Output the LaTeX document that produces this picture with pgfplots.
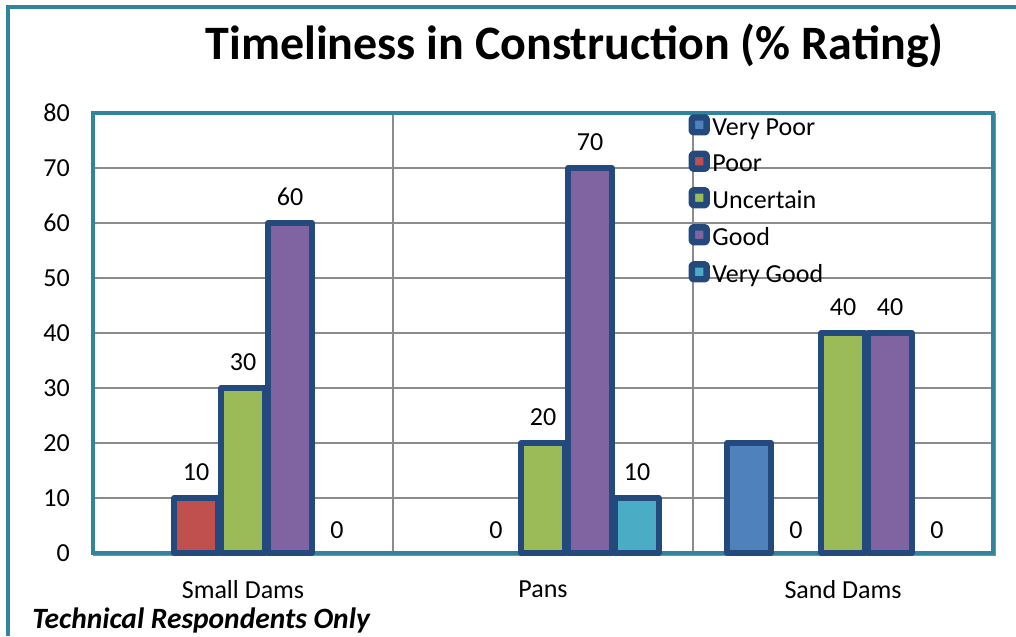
\documentclass[border=0pt]{standalone}
\usepackage{fontspec}
\setmainfont{Carlito}
\usepackage{pgfplots}
\pgfplotsset{compat=1.18}

\definecolor{vpoor}{HTML}{4F81BD}
\definecolor{poor}{HTML}{C0504D}
\definecolor{uncert}{HTML}{9BBB59}
\definecolor{good}{HTML}{8064A2}
\definecolor{vgood}{HTML}{4BACC6}
\definecolor{barline}{HTML}{24497C}
\definecolor{frame}{HTML}{31849B}
\definecolor{gridc}{HTML}{8C8C8C}

% square legend keys with a thick outline
\pgfplotsset{
  ybar legend/.style={
    /pgfplots/legend image code/.code={
      \draw[##1, draw=barline, line width=4.8pt, rounded corners=1pt] (-3.5pt,-3.2pt) rectangle (7.6pt,7.9pt);
    }
  },
  series/.style={fill=#1, draw=barline, line width=4.1pt, line join=round},
  labelled/.style={nodes near coords},
  zerolabels/.style={draw=none, fill=none, forget plot, nodes near coords},
}

\begin{document}
\begin{tikzpicture}
\useasboundingbox (0,0) rectangle (762pt,477pt);
% outer chart frame
\draw[frame, line width=3pt] (762pt,472pt) -- (6pt,472pt) -- (6pt,0pt);
% thin grey edge along the right and bottom of the plot area
\draw[gridc, line width=0.9pt] (70pt,60.6pt) -- (746.5pt,60.6pt) -- (746.5pt,392pt);

\begin{axis}[
  at={(69.75pt,62.25pt)}, anchor=south west,
  scale only axis, width=675pt, height=330pt,
  xmin=-0.5, xmax=2.5, ymin=0, ymax=80,
  ytick={0,10,...,80},
  xtick={0,1,2}, xticklabels={Small Dams,Pans,Sand Dams},
  minor xtick={0.5,1.5},
  xminorgrids, ymajorgrids,
  major tick length=0pt, minor tick length=0pt,
  grid style={gridc, line width=1.2pt},
  minor grid style={gridc, line width=1.2pt},
  axis line style={frame, line width=2.5pt},
  ybar, bar width=33pt,
  clip=false,
  font=\fontsize{19.5}{23}\selectfont,
  /pgf/number format/assume math mode=true,
  yticklabel style={xshift=-13.9pt},
  xticklabel style={yshift=-17.25pt},
  nodes near coords style={yshift=7.5pt, text=black, font=\fontsize{19.5}{23}\selectfont},
  legend style={draw=none, fill=none, at={(0.6615,0.9977)}, anchor=north west,
    font=\fontsize{19.5}{23}\selectfont, row sep=8pt, inner sep=0pt},
  legend cell align=left,
]
\addplot[series=vpoor, bar shift=-70.5pt] coordinates {(2,20)};
\addplot[series=poor, labelled, bar shift=-35.25pt] coordinates {(0,10)};
\addplot[series=uncert, labelled, bar shift=0pt] coordinates {(0,30) (1,20) (2,40)};
\addplot[series=good, labelled, bar shift=35.25pt] coordinates {(0,60) (1,70) (2,40)};
\addplot[series=vgood, labelled, bar shift=70.5pt] coordinates {(1,10)};
% zero ratings: label only, no bar
\addplot[zerolabels, bar shift=-35.25pt] coordinates {(1,0) (2,0)};
\addplot[zerolabels, bar shift=70.5pt] coordinates {(0,0) (2,0)};
\legend{Very Poor,Poor,Uncertain,Good,Very Good}
\end{axis}

\node[anchor=base, inner sep=0pt, font=\fontsize{36}{40}\selectfont\bfseries]
  at (430.9pt,432pt) {Timeliness in Construction (\% Rating)};
\node[anchor=base west, inner sep=0pt, font=\fontsize{22.1}{26}\selectfont\bfseries\itshape]
  at (24pt,6pt) {Technical Respondents Only};
\end{tikzpicture}
\end{document}
